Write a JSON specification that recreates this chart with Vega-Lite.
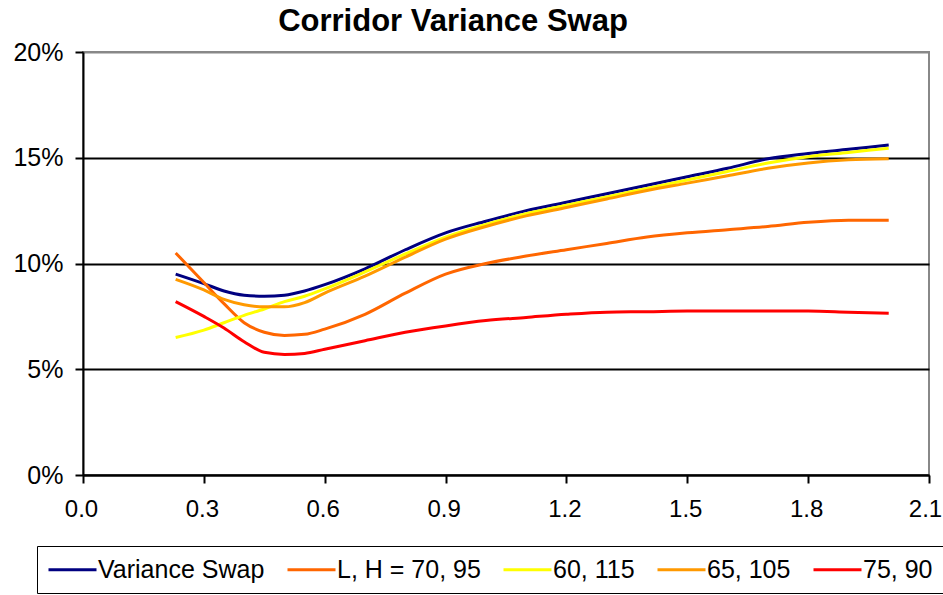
{
  "$schema": "https://vega.github.io/schema/vega-lite/v6.json",
  "width": 846,
  "height": 423,
  "autosize": "none",
  "padding": {"left": 83, "top": 52, "right": 14, "bottom": 120},
  "background": "white",
  "title": {
    "text": "Corridor Variance Swap",
    "font": "Liberation Sans",
    "fontSize": 31,
    "fontWeight": "bold",
    "color": "black",
    "anchor": "middle",
    "dx": -53,
    "offset": 2
  },
  "config": {
    "view": {"stroke": "#888888", "strokeWidth": 2},
    "axis": {
      "labelFont": "Liberation Sans",
      "labelFontSize": 25,
      "labelColor": "black",
      "domainColor": "black",
      "domainWidth": 2,
      "tickColor": "black",
      "tickWidth": 2,
      "tickSize": 8,
      "title": null
    }
  },
  "data": {
    "values": [
      {"s": "Variance Swap", "x": 0.23, "v": 9.5},
      {"s": "Variance Swap", "x": 0.3, "v": 9.05},
      {"s": "Variance Swap", "x": 0.35, "v": 8.7},
      {"s": "Variance Swap", "x": 0.4, "v": 8.5},
      {"s": "Variance Swap", "x": 0.45, "v": 8.45},
      {"s": "Variance Swap", "x": 0.5, "v": 8.5},
      {"s": "Variance Swap", "x": 0.55, "v": 8.7},
      {"s": "Variance Swap", "x": 0.6, "v": 9.0},
      {"s": "Variance Swap", "x": 0.7, "v": 9.75},
      {"s": "Variance Swap", "x": 0.8, "v": 10.65},
      {"s": "Variance Swap", "x": 0.9, "v": 11.45},
      {"s": "Variance Swap", "x": 1.0, "v": 12.0},
      {"s": "Variance Swap", "x": 1.1, "v": 12.5},
      {"s": "Variance Swap", "x": 1.2, "v": 12.9},
      {"s": "Variance Swap", "x": 1.3, "v": 13.3},
      {"s": "Variance Swap", "x": 1.4, "v": 13.7},
      {"s": "Variance Swap", "x": 1.5, "v": 14.1},
      {"s": "Variance Swap", "x": 1.6, "v": 14.5},
      {"s": "Variance Swap", "x": 1.7, "v": 14.95},
      {"s": "Variance Swap", "x": 1.8, "v": 15.2},
      {"s": "Variance Swap", "x": 1.9, "v": 15.4},
      {"s": "Variance Swap", "x": 2.0, "v": 15.6},

      {"s": "L, H = 70, 95", "x": 0.23, "v": 10.5},
      {"s": "L, H = 70, 95", "x": 0.3, "v": 9.1},
      {"s": "L, H = 70, 95", "x": 0.35, "v": 8.1},
      {"s": "L, H = 70, 95", "x": 0.4, "v": 7.2},
      {"s": "L, H = 70, 95", "x": 0.45, "v": 6.75},
      {"s": "L, H = 70, 95", "x": 0.5, "v": 6.6},
      {"s": "L, H = 70, 95", "x": 0.55, "v": 6.65},
      {"s": "L, H = 70, 95", "x": 0.6, "v": 6.9},
      {"s": "L, H = 70, 95", "x": 0.7, "v": 7.6},
      {"s": "L, H = 70, 95", "x": 0.8, "v": 8.6},
      {"s": "L, H = 70, 95", "x": 0.9, "v": 9.5},
      {"s": "L, H = 70, 95", "x": 1.0, "v": 10.0},
      {"s": "L, H = 70, 95", "x": 1.1, "v": 10.35},
      {"s": "L, H = 70, 95", "x": 1.2, "v": 10.65},
      {"s": "L, H = 70, 95", "x": 1.3, "v": 10.95},
      {"s": "L, H = 70, 95", "x": 1.4, "v": 11.25},
      {"s": "L, H = 70, 95", "x": 1.5, "v": 11.45},
      {"s": "L, H = 70, 95", "x": 1.6, "v": 11.6},
      {"s": "L, H = 70, 95", "x": 1.7, "v": 11.75},
      {"s": "L, H = 70, 95", "x": 1.8, "v": 11.95},
      {"s": "L, H = 70, 95", "x": 1.9, "v": 12.05},
      {"s": "L, H = 70, 95", "x": 2.0, "v": 12.05},

      {"s": "60, 115", "x": 0.23, "v": 6.5},
      {"s": "60, 115", "x": 0.3, "v": 6.85},
      {"s": "60, 115", "x": 0.35, "v": 7.2},
      {"s": "60, 115", "x": 0.4, "v": 7.55},
      {"s": "60, 115", "x": 0.45, "v": 7.85},
      {"s": "60, 115", "x": 0.5, "v": 8.2},
      {"s": "60, 115", "x": 0.55, "v": 8.45},
      {"s": "60, 115", "x": 0.6, "v": 8.8},
      {"s": "60, 115", "x": 0.7, "v": 9.6},
      {"s": "60, 115", "x": 0.8, "v": 10.45},
      {"s": "60, 115", "x": 0.9, "v": 11.25},
      {"s": "60, 115", "x": 1.0, "v": 11.85},
      {"s": "60, 115", "x": 1.1, "v": 12.35},
      {"s": "60, 115", "x": 1.2, "v": 12.75},
      {"s": "60, 115", "x": 1.3, "v": 13.15},
      {"s": "60, 115", "x": 1.4, "v": 13.55},
      {"s": "60, 115", "x": 1.5, "v": 13.95},
      {"s": "60, 115", "x": 1.6, "v": 14.35},
      {"s": "60, 115", "x": 1.7, "v": 14.75},
      {"s": "60, 115", "x": 1.8, "v": 15.05},
      {"s": "60, 115", "x": 1.9, "v": 15.25},
      {"s": "60, 115", "x": 2.0, "v": 15.45},

      {"s": "65, 105", "x": 0.23, "v": 9.25},
      {"s": "65, 105", "x": 0.3, "v": 8.75},
      {"s": "65, 105", "x": 0.35, "v": 8.3},
      {"s": "65, 105", "x": 0.4, "v": 8.05},
      {"s": "65, 105", "x": 0.45, "v": 7.95},
      {"s": "65, 105", "x": 0.5, "v": 7.95},
      {"s": "65, 105", "x": 0.55, "v": 8.15},
      {"s": "65, 105", "x": 0.6, "v": 8.6},
      {"s": "65, 105", "x": 0.7, "v": 9.4},
      {"s": "65, 105", "x": 0.8, "v": 10.3},
      {"s": "65, 105", "x": 0.9, "v": 11.15},
      {"s": "65, 105", "x": 1.0, "v": 11.75},
      {"s": "65, 105", "x": 1.1, "v": 12.25},
      {"s": "65, 105", "x": 1.2, "v": 12.65},
      {"s": "65, 105", "x": 1.3, "v": 13.05},
      {"s": "65, 105", "x": 1.4, "v": 13.45},
      {"s": "65, 105", "x": 1.5, "v": 13.8},
      {"s": "65, 105", "x": 1.6, "v": 14.15},
      {"s": "65, 105", "x": 1.7, "v": 14.5},
      {"s": "65, 105", "x": 1.8, "v": 14.75},
      {"s": "65, 105", "x": 1.9, "v": 14.9},
      {"s": "65, 105", "x": 2.0, "v": 14.95},

      {"s": "75, 90", "x": 0.23, "v": 8.2},
      {"s": "75, 90", "x": 0.3, "v": 7.5},
      {"s": "75, 90", "x": 0.35, "v": 6.95},
      {"s": "75, 90", "x": 0.4, "v": 6.3},
      {"s": "75, 90", "x": 0.45, "v": 5.8},
      {"s": "75, 90", "x": 0.5, "v": 5.7},
      {"s": "75, 90", "x": 0.55, "v": 5.75},
      {"s": "75, 90", "x": 0.6, "v": 5.95},
      {"s": "75, 90", "x": 0.7, "v": 6.35},
      {"s": "75, 90", "x": 0.8, "v": 6.75},
      {"s": "75, 90", "x": 0.9, "v": 7.05},
      {"s": "75, 90", "x": 1.0, "v": 7.3},
      {"s": "75, 90", "x": 1.1, "v": 7.45},
      {"s": "75, 90", "x": 1.2, "v": 7.6},
      {"s": "75, 90", "x": 1.3, "v": 7.7},
      {"s": "75, 90", "x": 1.4, "v": 7.72},
      {"s": "75, 90", "x": 1.5, "v": 7.75},
      {"s": "75, 90", "x": 1.6, "v": 7.75},
      {"s": "75, 90", "x": 1.7, "v": 7.75},
      {"s": "75, 90", "x": 1.8, "v": 7.75},
      {"s": "75, 90", "x": 1.9, "v": 7.7},
      {"s": "75, 90", "x": 2.0, "v": 7.65}
    ]
  },
  "mark": {"type": "line", "strokeWidth": 3, "interpolate": "monotone"},
  "encoding": {
    "x": {
      "field": "x",
      "type": "quantitative",
      "scale": {"domain": [0, 2.1], "nice": false, "zero": false},
      "axis": {
        "values": [0, 0.3, 0.6, 0.9, 1.2, 1.5, 1.8, 2.1],
        "format": ".1f",
        "grid": false,
        "labelFontSize": 24,
        "labelOffset": {"condition": {"test": "datum.value > 2", "value": -4}, "value": -2},
        "labelPadding": 14,
        "labelFlush": false
      }
    },
    "y": {
      "field": "v",
      "type": "quantitative",
      "scale": {"domain": [0, 20], "nice": false},
      "axis": {
        "values": [0, 5, 10, 15, 20],
        "labelExpr": "datum.value + '%'",
        "grid": true,
        "gridColor": {"condition": {"test": "datum.value == 20", "value": "#888888"}, "value": "black"},
        "gridWidth": 2,
        "gridOpacity": 1,
        "labelPadding": 12,
        "labelFlush": false
      }
    },
    "color": {
      "field": "s",
      "type": "nominal",
      "scale": {
        "domain": ["Variance Swap", "L, H = 70, 95", "60, 115", "65, 105", "75, 90"],
        "range": ["#000080", "#FF6600", "#FFFF00", "#FF9900", "#FF0000"]
      },
      "legend": {
        "title": null,
        "orient": "none",
        "legendX": -46,
        "legendY": 494,
        "direction": "horizontal",
        "columns": 5,
        "strokeColor": "black",
        "fillColor": "white",
        "padding": 10,
        "columnPadding": 16,
        "labelFont": "Liberation Sans",
        "labelFontSize": 25,
        "labelColor": "black",
        "labelOffset": 12,
        "labelLimit": 400,
        "symbolType": "M-2,0H2",
        "symbolSize": 576,
        "symbolOffset": 12,
        "symbolStrokeWidth": 3
      }
    }
  }
}
